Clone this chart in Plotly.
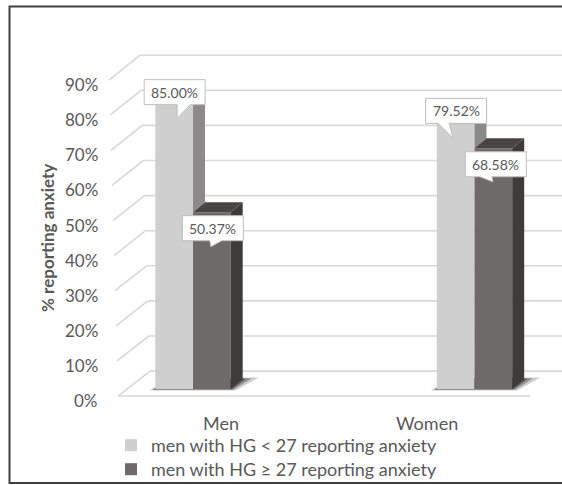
import plotly.graph_objects as go

# ---- data -------------------------------------------------------------
categories = ["Men", "Women"]
series_names = [
    "men with HG < 27 reporting anxiety",
    "men with HG \u2265 27 reporting anxiety",
]
hg_below_27 = [85.00, 79.52]
hg_27_plus = [50.37, 68.58]
tick_values = [0, 10, 20, 30, 40, 50, 60, 70, 80, 90]
tick_labels = ["0%", "10%", "20%", "30%", "40%", "50%", "60%", "70%", "80%", "90%"]

# ---- styling ------------------------------------------------------------
FONT = "Lato"
TEXT = "#595959"
GRID = "#d9d9d9"
FRONT_COLORS = ["#d0cfcf", "#6f6a6a"]
SIDE_COLORS = ["#8b8989", "#403b3b"]
TOP_COLORS = ["#b5b3b3", "#4a4444"]

# ---- oblique 3-D geometry (figure pixels) ---------------------------------
W, H = 562, 485
ZERO_ROW = 389.0      # pixel row of 0 % on the bar front plane
PX_PER_PCT = 3.51
CAT0_PX = 193.0       # pixel column of the first category centre
CAT_STEP_PX = 281.5
BAR_W_PX = 37.7
DEPTH_DX_PX, DEPTH_DY_PX = 12.0, 10.0
FRONT_OFF, BACK_OFF = -2.0, 5.1          # wall planes relative to bar plane (% units)
WALL_FRONT_X, WALL_FRONT_LEAN = 118.0, -9.0
WALL_BACK_X, WALL_BACK_LEAN = 150.0, -10.0
FLOOR_FRONT_END = 530.0
LEGEND_TOP_PX = 427.0
LEGEND_STEP_PX = 24.0


def xd(px):
    return (px - CAT0_PX) / CAT_STEP_PX


def dxd(px):
    return px / CAT_STEP_PX


def dyd(px):
    return px / PX_PER_PCT


BAR_W = dxd(BAR_W_PX)
DX, DY = dxd(DEPTH_DX_PX), dyd(DEPTH_DY_PX)
OFFSETS = [-BAR_W / 2, BAR_W / 2]

# callout boxes: (box centre dx px, box centre dy px below the bar top,
#                 pointer left, pointer right, pointer tip x, pointer depth)
BOX_W, BOX_H = 61.0, 25.0
callout_style = {
    (0, 0): (0.5, 1.5, 2.5, 15.5, 2.5, 14),
    (0, 1): (0.5, 1.0, -18, -7, -3, 15),
    (1, 0): (1.0, 16.0, -3, 9, -2, 6),
    (1, 1): (2.5, 16.0, -16, -4, -3, 5),
}

series_values = [hg_below_27, hg_27_plus]
cat_x = list(range(len(categories)))

fig = go.Figure()
shapes = []
annotations = []


def wall_x(base, lean, v):
    return xd(base + lean * v / 90.0)


# back wall and side wall gridlines
for v in tick_values:
    bx = wall_x(WALL_BACK_X, WALL_BACK_LEAN, v)
    fx = wall_x(WALL_FRONT_X, WALL_FRONT_LEAN, v)
    shapes.append(dict(type="line", xref="x", yref="y", layer="below",
                       x0=bx, x1=xd(W + 10), y0=v + BACK_OFF, y1=v + BACK_OFF,
                       line=dict(color=GRID, width=1.6)))
    shapes.append(dict(type="line", xref="x", yref="y", layer="below",
                       x0=fx, x1=bx, y0=v + FRONT_OFF, y1=v + BACK_OFF,
                       line=dict(color=GRID, width=1.6)))
# floor front edge
shapes.append(dict(type="line", xref="x", yref="y", layer="below",
                   x0=wall_x(WALL_FRONT_X, WALL_FRONT_LEAN, 0), x1=xd(FLOOR_FRONT_END),
                   y0=FRONT_OFF, y1=FRONT_OFF, line=dict(color=GRID, width=1.6)))


def poly(pts):
    return "M " + " L ".join(f"{x},{y}" for x, y in pts) + " Z"


# soft floor shadows under each bar cluster
for i in cat_x:
    xl = i + OFFSETS[0] - BAR_W / 2
    xr = i + OFFSETS[1] + BAR_W / 2
    for grow, alpha in [(1.0, 0.22), (0.55, 0.35), (0.2, 0.5)]:
        pts = [
            (xl - dxd(6 * grow), -dyd(1.5 * grow)),
            (xr + dxd(5 * grow), -dyd(1.5 * grow)),
            (xr + DX + dxd(16 * grow), DY + dyd(1.5 * grow)),
            (xl + DX + dxd(4), DY + dyd(1.5 * grow)),
        ]
        shapes.append(dict(type="path", xref="x", yref="y", layer="below",
                           path=poly(pts), fillcolor=f"rgba(30,28,28,{alpha})",
                           line=dict(width=0)))

# front faces (one legend box per series so the rows can be spaced freely)
legend_refs = ["legend", "legend2"]
for s, vals in enumerate(series_values):
    fig.add_trace(go.Bar(
        x=[i + OFFSETS[s] for i in cat_x], y=vals, width=BAR_W,
        name=series_names[s], marker=dict(color=FRONT_COLORS[s], line=dict(width=0)),
        hoverinfo="skip", legend=legend_refs[s],
    ))


def face(xs, ys, color):
    fig.add_trace(go.Scatter(x=xs + [xs[0]], y=ys + [ys[0]], mode="lines",
                             fill="toself", fillcolor=color, line=dict(width=0),
                             showlegend=False, hoverinfo="skip"))


# top and side faces
for i in cat_x:
    vl, vd = hg_below_27[i], hg_27_plus[i]
    lx0, lx1 = i + OFFSETS[0] - BAR_W / 2, i + OFFSETS[0] + BAR_W / 2
    dx0, dx1 = i + OFFSETS[1] - BAR_W / 2, i + OFFSETS[1] + BAR_W / 2
    face([lx0, lx1, lx1 + DX, lx0 + DX], [vl, vl, vl + DY, vl + DY], TOP_COLORS[0])
    face([lx1, lx1 + DX, lx1 + DX, lx1], [vd, vd + DY, vl + DY, vl], SIDE_COLORS[0])
    face([dx0, dx1, dx1 + DX, dx0 + DX], [vd, vd, vd + DY, vd + DY], TOP_COLORS[1])
    face([dx1, dx1 + DX, dx1 + DX, dx1], [0, DY, vd + DY, vd], SIDE_COLORS[1])

# value callouts
for s, vals in enumerate(series_values):
    for i in cat_x:
        v = vals[i]
        cdx, cdy, pl, pr, pt, pd = callout_style[(s, i)]
        cx = i + OFFSETS[s] + dxd(cdx)
        cy = v - dyd(cdy)
        hw, hh = dxd(BOX_W / 2), dyd(BOX_H / 2)
        top, bot = cy + hh, cy - hh
        pts = [(cx - hw, top), (cx + hw, top), (cx + hw, bot),
               (cx + dxd(pr), bot), (cx + dxd(pt), bot - dyd(pd)),
               (cx + dxd(pl), bot), (cx - hw, bot)]
        shapes.append(dict(type="path", xref="x", yref="y", layer="above",
                           path=poly(pts), fillcolor="white",
                           line=dict(color="#bfbfbf", width=1)))
        annotations.append(dict(x=cx, y=cy, xref="x", yref="y", text=f"{v:.2f}%",
                                showarrow=False, xanchor="center", yanchor="middle",
                                font=dict(family=FONT, size=14, color=TEXT)))

# value axis labels along the side wall
for v, lab in zip(tick_values, tick_labels):
    annotations.append(dict(x=100 / W, xref="paper", y=v - 3.3, yref="y", text=lab,
                            showarrow=False, xanchor="right", yanchor="middle",
                            font=dict(family=FONT, size=17, color=TEXT)))

# category labels along the floor front
for i, c in enumerate(categories):
    lx = 0.465 + (i - 0.5) * 0.732
    annotations.append(dict(x=lx, xref="x", y=(ZERO_ROW - 423) / PX_PER_PCT,
                            yref="y", text=c, showarrow=False, xanchor="center",
                            yanchor="middle", font=dict(family=FONT, size=18, color=TEXT)))

# value axis title
annotations.append(dict(x=47 / W, xref="paper", y=1 - 238 / H, yref="paper",
                        text="<b>% reporting anxiety</b>", textangle=-90, showarrow=False,
                        xanchor="center", yanchor="middle",
                        font=dict(family=FONT, size=17, color=TEXT)))

# chart frame
shapes.append(dict(type="rect", xref="paper", yref="paper", layer="above",
                   x0=9.5 / W, x1=1.05, y0=1 - 483 / H, y1=1 - 6.5 / H,
                   line=dict(color="#404040", width=2), fillcolor="rgba(0,0,0,0)"))


def legend_box(row):
    return dict(x=111 / W, xanchor="left",
                y=1 - (LEGEND_TOP_PX + row * LEGEND_STEP_PX) / H, yanchor="top",
                bgcolor="rgba(0,0,0,0)", font=dict(family=FONT, size=18, color=TEXT))


fig.update_layout(
    width=W, height=H, margin=dict(l=0, r=0, t=0, b=0, autoexpand=False),
    paper_bgcolor="white", plot_bgcolor="rgba(0,0,0,0)",
    barmode="overlay",
    xaxis=dict(range=[xd(0), xd(W)], visible=False, fixedrange=True),
    yaxis=dict(range=[(ZERO_ROW - H) / PX_PER_PCT, ZERO_ROW / PX_PER_PCT],
               visible=False, fixedrange=True),
    shapes=shapes, annotations=annotations,
    showlegend=True,
    legend=legend_box(0),
    legend2=legend_box(1),
)

fig.write_html("out.html")
